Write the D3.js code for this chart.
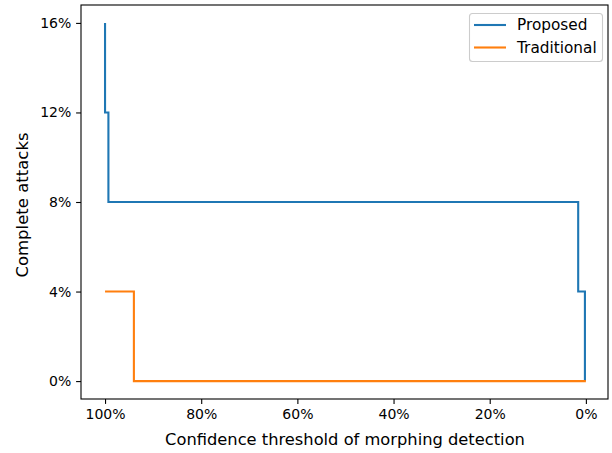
<!DOCTYPE html>
<html>
<head>
<meta charset="utf-8">
<script src="https://cdn.jsdelivr.net/npm/d3@7"></script>
<style>
  body { margin: 0; background: #fff; }
  svg { display: block; font-family: "DejaVu Sans", sans-serif; }
</style>
</head>
<body>
<script>
var width = 612,
    height = 453;

// threshold (%) / complete attacks (%) pairs, drawn as steps
var proposedX = [100, 100, 99.3, 1.6, 0.2];
var proposedY = [16, 12, 8, 4, 0];
var traditionalX = [100, 94, 0];
var traditionalY = [4, 0, 0];

var xTicks = [100, 80, 60, 40, 20, 0];
var yTicks = [0, 4, 8, 12, 16];
var seriesNames = ["Proposed", "Traditional"];
var colors = ["#1f77b4", "#ff7f0e"];

var m = {left: 81, right: 608, top: 5, bottom: 399};

var x = d3.scaleLinear().domain([105, -4.6]).range([m.left, m.right]);
var y = d3.scaleLinear().domain([-0.8, 16.8]).range([m.bottom, m.top]);

var svg = d3.select("body").append("svg")
    .attr("width", width)
    .attr("height", height);

var line = d3.line()
    .x(d => x(d[0]))
    .y(d => y(d[1]))
    .curve(d3.curveStepAfter);

var series = [
  d3.zip(proposedX, proposedY),
  d3.zip(traditionalX, traditionalY)
];

svg.append("g")
  .selectAll("path")
  .data(series)
  .join("path")
    .attr("fill", "none")
    .attr("stroke", (d, i) => colors[i])
    .attr("stroke-width", 2.1)
    .attr("d", line);

// axes
var xAxis = svg.append("g")
    .attr("transform", "translate(0," + m.bottom + ")")
    .call(d3.axisBottom(x).tickValues(xTicks).tickSize(4.9).tickPadding(4.8)
      .tickFormat(d => d + "%"));

var yAxis = svg.append("g")
    .attr("transform", "translate(" + m.left + ",0)")
    .call(d3.axisLeft(y).tickValues(yTicks).tickSize(4.9).tickPadding(4.8)
      .tickFormat(d => d + "%"));

[xAxis, yAxis].forEach(g => {
  g.select(".domain").remove();
  g.selectAll(".tick line").attr("stroke", "#000").attr("stroke-width", 1.1);
  g.selectAll(".tick text").attr("fill", "#000").style("font-size", "14px")
    .style("font-family", "DejaVu Sans");
});

// frame
svg.append("rect")
    .attr("x", m.left)
    .attr("y", m.top)
    .attr("width", m.right - m.left)
    .attr("height", m.bottom - m.top)
    .attr("fill", "none")
    .attr("stroke", "#000")
    .attr("stroke-width", 1.1);

svg.append("text")
    .attr("x", 345)
    .attr("y", 445)
    .attr("text-anchor", "middle")
    .style("font-size", "16.3px")
    .text("Confidence threshold of morphing detection");

svg.append("text")
    .attr("transform", "translate(27.5,205) rotate(-90)")
    .attr("text-anchor", "middle")
    .style("font-size", "16.5px")
    .text("Complete attacks");

// legend
var legend = svg.append("g");
legend.append("rect")
    .attr("x", 469.5)
    .attr("y", 13.5)
    .attr("width", 133)
    .attr("height", 48)
    .attr("rx", 3)
    .attr("fill", "#fff")
    .attr("fill-opacity", 0.8)
    .attr("stroke", "#ccc")
    .attr("stroke-width", 1.1);

var item = legend.selectAll("g.item")
  .data(seriesNames)
  .join("g")
    .attr("class", "item")
    .attr("transform", (d, i) => "translate(0," + (25 + i * 22.5) + ")");

item.append("line")
    .attr("x1", 474)
    .attr("x2", 506)
    .attr("stroke", (d, i) => colors[i])
    .attr("stroke-width", 2.1);

item.append("text")
    .attr("x", 517)
    .attr("dy", "0.35em")
    .style("font-size", "15.3px")
    .text(d => d);
</script>
</body>
</html>
